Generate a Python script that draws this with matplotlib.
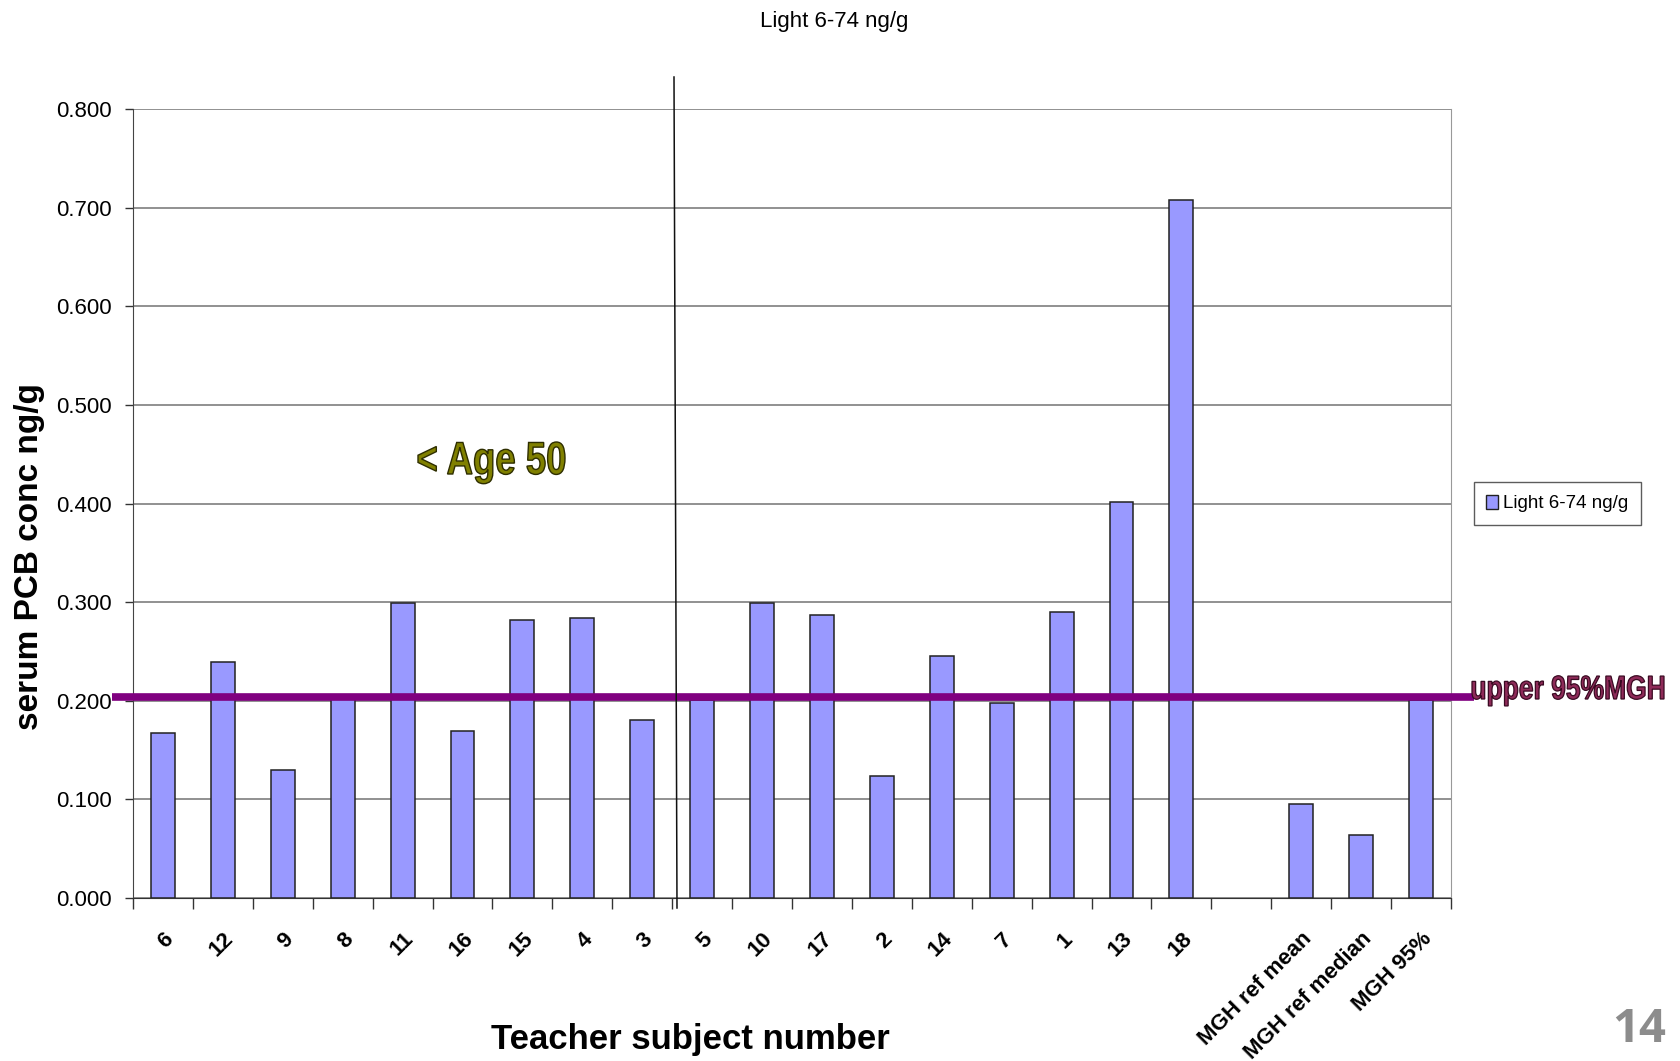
import matplotlib
matplotlib.use("Agg")
import matplotlib.pyplot as plt
from matplotlib.patches import Patch, PathPatch
from matplotlib.textpath import TextPath
from matplotlib.font_manager import FontProperties
from matplotlib.transforms import Affine2D
import numpy as np

categories = ["6", "12", "9", "8", "11", "16", "15", "4", "3", "5", "10", "17",
              "2", "14", "7", "1", "13", "18", "", "MGH ref mean", "MGH ref median", "MGH 95%"]
values = [0.167, 0.239, 0.130, 0.202, 0.299, 0.169, 0.282, 0.284, 0.180, 0.201,
          0.299, 0.287, 0.124, 0.245, 0.198, 0.290, 0.402, 0.708, 0.0, 0.095, 0.064, 0.201]
series_name = "Light 6-74 ng/g"
upper_mgh = 0.204
yticks = [0.0, 0.1, 0.2, 0.3, 0.4, 0.5, 0.6, 0.7, 0.8]

plt.rcParams['font.family'] = ['Liberation Sans', 'DejaVu Sans']

W, H = 1680, 1061
DPI = 100
fig = plt.figure(figsize=(W / DPI, H / DPI), dpi=DPI)
ax = fig.add_axes([133 / W, 1 - 898 / H, (1451 - 133) / W, (898 - 109) / H])

x = np.arange(len(categories))
mask = [c != "" for c in categories]
ax.bar(x[mask], np.array(values)[mask], width=0.4, color="#9999FF",
       edgecolor="#222222", linewidth=1.1, zorder=3, label=series_name)

ax.set_xlim(-0.5, len(categories) - 0.5)
ax.set_ylim(0, 0.8)
ax.set_yticks(yticks)
ax.set_yticklabels([f"{v:.3f}" for v in yticks], fontsize=16)
ax.yaxis.grid(True, color="#888888", linewidth=1.3, zorder=0)
ax.set_axisbelow(True)

ax.set_xticks(x)
ax.set_xticklabels(categories, rotation=45, ha="right", rotation_mode="anchor",
                   fontsize=16, fontweight="bold")
ax.tick_params(axis="x", which="major", length=0, pad=22)
ax.set_xticks(np.arange(-0.5, len(categories), 1.0), minor=True)
ax.tick_params(axis="x", which="minor", length=8, width=1.0, direction="out", color="#333333")
ax.tick_params(axis="y", length=6, width=1.0, direction="out", pad=9, color="#333333")

ax.spines["top"].set_visible(False)
ax.spines["right"].set_color("#999999")
ax.spines["left"].set_color("#444444")
ax.spines["bottom"].set_color("#333333")


def condensed_text(s, x_left, width, baseline, size_pt, fill, edge, lw=1.0):
    """Draw bold text squeezed horizontally to a given pixel width."""
    fp = FontProperties(family="Liberation Sans", weight="bold")
    tp = TextPath((0, 0), s, size=size_pt, prop=fp)
    bb = tp.get_extents()
    px = DPI / 72.0
    xs = width / (bb.width * px)
    tr = (Affine2D().translate(-bb.x0, 0).scale(px * xs, px)
          .translate(x_left, H - baseline).scale(1.0 / DPI))
    patch = PathPatch(tr.transform_path(tp), facecolor=fill, edgecolor=edge,
                      linewidth=lw, transform=fig.dpi_scale_trans, zorder=10)
    fig.add_artist(patch)


# purple reference line
trans = matplotlib.transforms.blended_transform_factory(fig.transFigure, ax.transData)
ax.plot([112 / W, 1474 / W], [upper_mgh, upper_mgh], transform=trans,
        color="#800080", linewidth=5.5, zorder=5, clip_on=False, solid_capstyle="butt")
condensed_text("upper 95%MGH", 1472, 192, 699, 24, "#8E2A58", "#3a0a22", lw=0.9)

# vertical divider line
fig.add_artist(plt.Line2D([674 / W, 677 / W], [1 - 77 / H, 1 - 908 / H],
                          color="#111111", linewidth=1.1))

condensed_text("< Age 50", 418, 147, 474, 33, "#808000", "#2e2e00", lw=1.0)

fig.text(834 / W, 1 - 21 / H, series_name, fontsize=16, ha="center", va="center")
fig.text(30 / W, 1 - 557 / H, "serum PCB conc ng/g", fontsize=24, fontweight="bold",
         rotation=90, ha="center", va="center")
fig.text(690 / W, 1 - 1039 / H, "Teacher subject number", fontsize=25, fontweight="bold",
         ha="center", va="center")
fig.text(1639 / W, 1 - 1029 / H, "14", fontsize=34, fontweight="bold", color="#8C8C8C",
         family=["Open Sans", "DejaVu Sans"], ha="center", va="center")

leg = fig.legend(handles=[Patch(facecolor="#9999FF", edgecolor="#222222", label=series_name)],
                 loc="center", bbox_to_anchor=(1557.5 / W, 1 - 503.5 / H), fontsize=13.5,
                 frameon=True, fancybox=False, edgecolor="#333333", handlelength=0.6,
                 handleheight=0.8, handletextpad=0.3, borderpad=0.65, borderaxespad=0)
leg.get_frame().set_linewidth(1.0)

fig.savefig("out.png", dpi=DPI)
